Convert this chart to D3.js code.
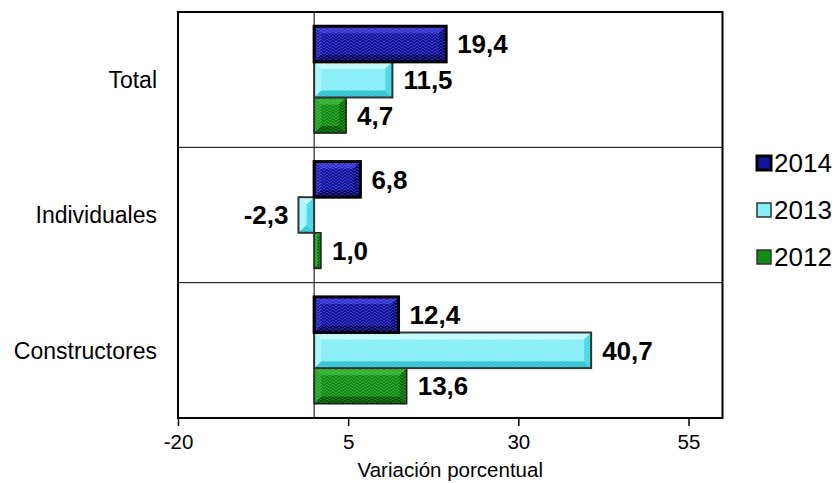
<!DOCTYPE html>
<html>
<head>
<meta charset="utf-8">
<script src="https://cdn.jsdelivr.net/npm/d3@7"></script>
<style>
  body { margin: 0; background: #fff; }
  svg { display: block; }
  text { font-family: "Liberation Sans", Arial, sans-serif; fill: #000; }
</style>
</head>
<body>
<svg id="chart" width="839" height="483"></svg>
<script>
// Variación porcentual por tipo de comprador
const categories = ["Total", "Individuales", "Constructores"];
const years = ["2014", "2013", "2012"];
const values2014 = [19.4, 6.8, 12.4];
const values2013 = [11.5, -2.3, 40.7];
const values2012 = [4.7, 1.0, 13.6];
const xTicks = [-20, 5, 30, 55];
const xDomain = [-20, 60];
const xTitle = "Variación porcentual";

const valuesByYear = { "2014": values2014, "2013": values2013, "2012": values2012 };

// Bevelled fill colours per series
const looks = {
  "2014": { base: "#1414a2", top: "#3232d0", bottom: "#05056a", left: "#2424bc", right: "#0a0a84", stroke: "#000", sw: 3 },
  "2013": { base: "#86eef8", top: "#c0fafe", bottom: "#30c4d4", left: "#a6f6fc", right: "#46d6e4", stroke: "#333", sw: 2 },
  "2012": { base: "#128c12", top: "#2cb02c", bottom: "#005800", left: "#22a222", right: "#067006", stroke: "#1e1e1e", sw: 1.5 }
};

const locale = d3.formatLocale({ decimal: ",", thousands: ".", grouping: [3], currency: ["", "€"], minus: "-" });
const fmtValue = locale.format(".1f");
const fmtTick = locale.format("d");

const width = 839, height = 483;
const margin = { top: 12, right: 116.5, bottom: 65, left: 178 };
const svg = d3.select("#chart");

const x = d3.scaleLinear().domain(xDomain).range([margin.left, width - margin.right]);
const y0 = d3.scaleBand().domain(categories).range([margin.top, height - margin.bottom]).padding(0);
const y1 = d3.scaleBand().domain(years).range([0, y0.bandwidth()]).paddingInner(0).paddingOuter(0.4);

// subtle woven texture over the bars
const defs = svg.append("defs");
const pat = defs.append("pattern").attr("id", "weave")
  .attr("width", 6).attr("height", 6).attr("patternUnits", "userSpaceOnUse");
pat.append("path").attr("d", "M0,3 L3,0 L6,3 M0,6 L3,3 L6,6")
  .attr("fill", "none").attr("stroke", "#fff").attr("stroke-opacity", 0.18).attr("stroke-width", 1);

const plotL = x.range()[0], plotR = x.range()[1];
const plotT = y0.range()[0], plotB = y0.range()[1];

// category separators
svg.append("g").selectAll("line").data(categories.slice(1)).join("line")
  .attr("x1", plotL).attr("x2", plotR)
  .attr("y1", d => y0(d)).attr("y2", d => y0(d))
  .attr("stroke", "#000").attr("stroke-width", 1);

// zero line
svg.append("line")
  .attr("x1", x(0)).attr("x2", x(0)).attr("y1", plotT).attr("y2", plotB)
  .attr("stroke", "#000").attr("stroke-width", 1);

// bars (2012 first so 2014 sits on top)
const bars = [];
years.slice().reverse().forEach(yr => {
  categories.forEach((cat, i) => {
    bars.push({ year: yr, cat, value: valuesByYear[yr][i] });
  });
});

const barG = svg.append("g");
bars.forEach(d => {
  const lk = looks[d.year];
  const xa = x(Math.min(0, d.value)), xb = x(Math.max(0, d.value));
  const ya = y0(d.cat) + y1(d.year), yb = ya + y1.bandwidth();
  const w = xb - xa, h = yb - ya;
  const b = Math.min(7, h * 0.22, w / 2);
  const g = barG.append("g");
  g.append("rect").attr("x", xa).attr("y", ya).attr("width", w).attr("height", h).attr("fill", lk.base);
  const facets = [
    { pts: [[xa, ya], [xb, ya], [xb - b, ya + b], [xa + b, ya + b]], c: lk.top },
    { pts: [[xa, yb], [xb, yb], [xb - b, yb - b], [xa + b, yb - b]], c: lk.bottom },
    { pts: [[xa, ya], [xa + b, ya + b], [xa + b, yb - b], [xa, yb]], c: lk.left },
    { pts: [[xb, ya], [xb - b, ya + b], [xb - b, yb - b], [xb, yb]], c: lk.right }
  ];
  facets.forEach(f => {
    g.append("polygon").attr("points", f.pts.map(p => p.join(",")).join(" ")).attr("fill", f.c);
  });
  g.append("rect").attr("x", xa).attr("y", ya).attr("width", w).attr("height", h).attr("fill", "url(#weave)");
  g.append("rect").attr("x", xa).attr("y", ya).attr("width", w).attr("height", h)
    .attr("fill", "none").attr("stroke", lk.stroke).attr("stroke-width", lk.sw);
});

// value labels
svg.append("g").selectAll("text").data(bars).join("text")
  .attr("x", d => d.value >= 0 ? x(d.value) + 11 : x(d.value) - 10)
  .attr("y", d => y0(d.cat) + y1(d.year) + y1.bandwidth() / 2)
  .attr("dy", "0.36em")
  .attr("text-anchor", d => d.value >= 0 ? "start" : "end")
  .style("font-size", "26px").style("font-weight", "bold")
  .text(d => fmtValue(d.value));

// frame
svg.append("rect")
  .attr("x", plotL).attr("y", plotT).attr("width", plotR - plotL).attr("height", plotB - plotT)
  .attr("fill", "none").attr("stroke", "#000").attr("stroke-width", 2);

// x axis
const axis = svg.append("g").attr("transform", `translate(0,${plotB})`)
  .call(d3.axisBottom(x).tickValues(xTicks).tickSize(8).tickPadding(8).tickFormat(fmtTick));
axis.select(".domain").remove();
axis.selectAll(".tick line").attr("stroke", "#000").attr("stroke-width", 1.5);
axis.selectAll(".tick text").style("font-size", "20.5px").style("font-family", "'Liberation Sans', Arial, sans-serif").attr("fill", "#000");

svg.append("text")
  .attr("x", (plotL + plotR) / 2).attr("y", 476.5)
  .attr("text-anchor", "middle").style("font-size", "20.5px")
  .text(xTitle);

// category labels
svg.append("g").selectAll("text").data(categories).join("text")
  .attr("x", plotL - 21)
  .attr("y", d => y0(d) + y0.bandwidth() / 2)
  .attr("dy", "0.36em").attr("text-anchor", "end")
  .style("font-size", "23px")
  .text(d => d);

// legend
const legend = svg.append("g").selectAll("g").data(years).join("g")
  .attr("transform", (d, i) => `translate(757,${163 + i * 47})`);
legend.append("rect")
  .attr("x", 0).attr("y", -7).attr("width", 14).attr("height", 14)
  .attr("fill", d => looks[d].base)
  .attr("stroke", d => d === "2014" ? "#000" : "#333")
  .attr("stroke-width", d => d === "2014" ? 3 : 1.5);
legend.append("text")
  .attr("x", 17).attr("dy", "0.36em")
  .style("font-size", "26px")
  .text(d => d);
</script>
</body>
</html>
